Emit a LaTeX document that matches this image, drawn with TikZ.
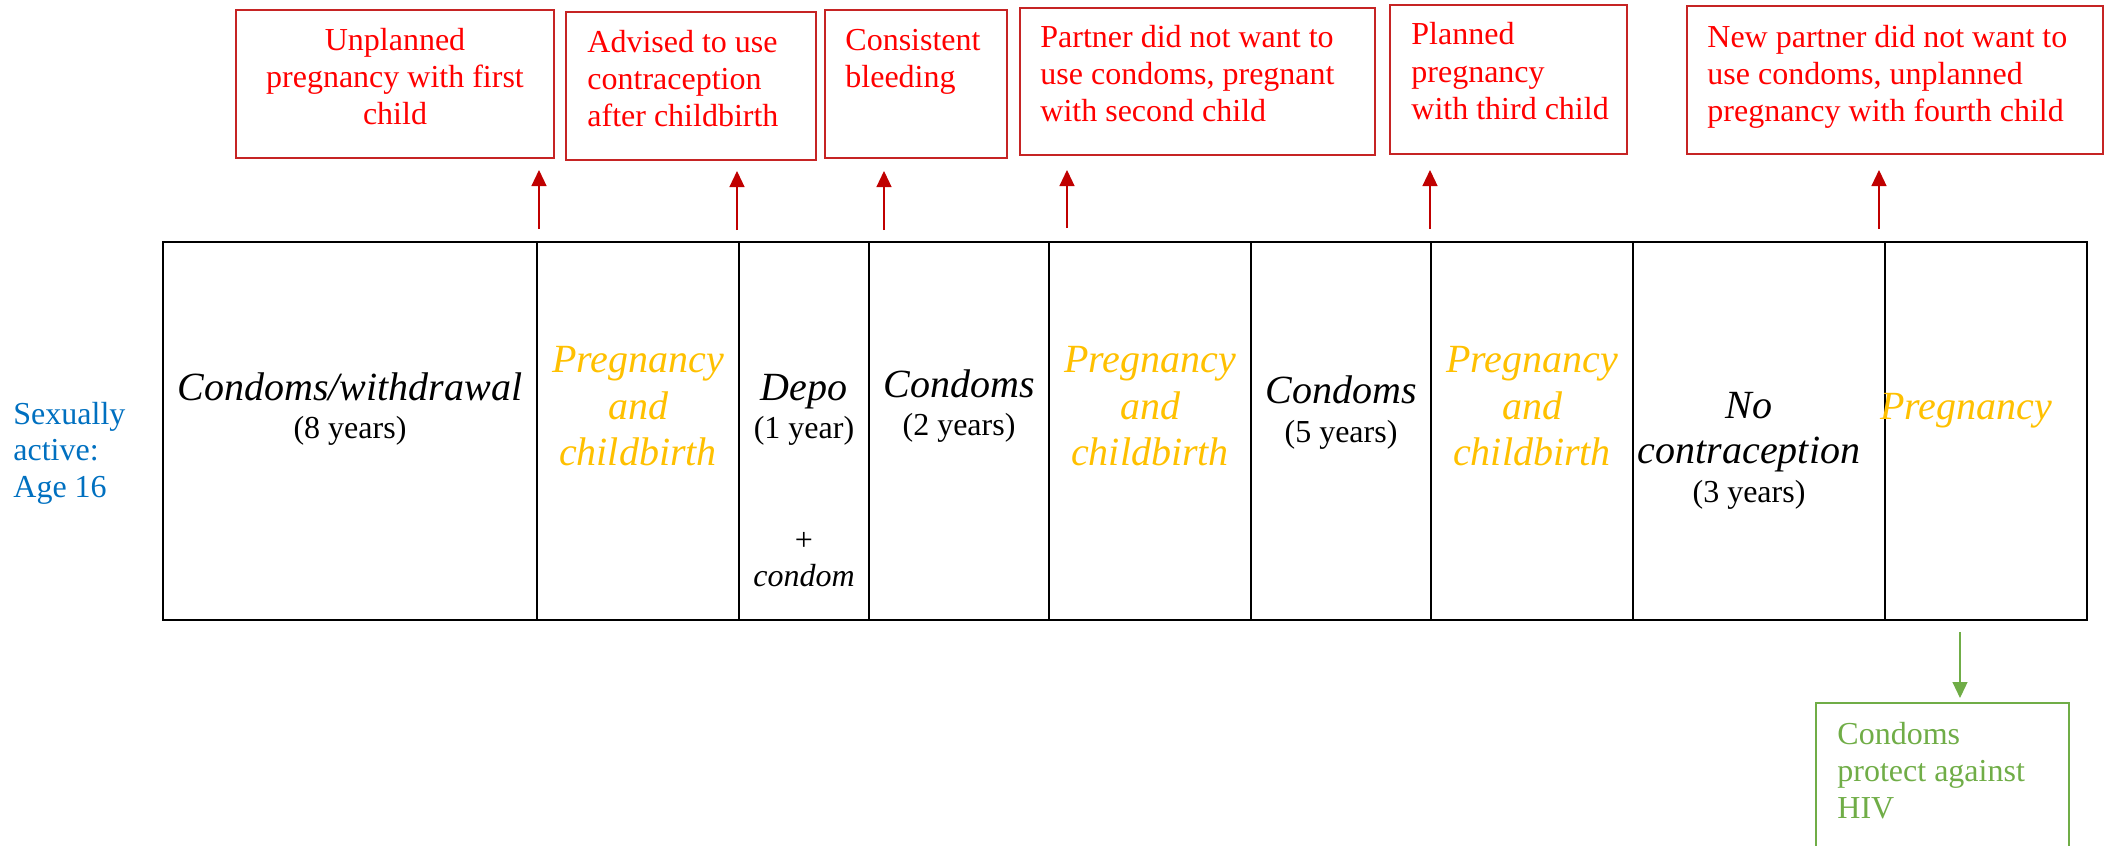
\documentclass[tikz,border=0pt]{standalone}
\usepackage{fontspec}
\setmainfont{Liberation Serif}
\usetikzlibrary{arrows.meta}
\definecolor{evyellow}{HTML}{FFC000}
\definecolor{ageblue}{HTML}{0070C0}
\definecolor{notered}{HTML}{FF0000}
\definecolor{noteframe}{RGB}{198,36,36}
\definecolor{arrowred}{HTML}{C00000}
\definecolor{hivgreen}{HTML}{70AD47}
\begin{document}
% multi-line text nodes are placed by the baseline of their last line
\begin{tikzpicture}[x=0.5pt,y=-0.5pt,
  cellbox/.style={draw, line width=0.7pt, minimum height=189pt, inner sep=0pt, outer sep=0pt, anchor=north west},
  methodtxt/.style={font=\fontsize{20}{23}\selectfont\itshape, anchor=base, inner sep=0pt},
  eventtxt/.style={methodtxt, text=evyellow},
  spantxt/.style={font=\fontsize{16}{18.5}\selectfont, anchor=base, inner sep=0pt},
  notebox/.style={draw=noteframe, line width=0.7pt, inner sep=0pt, outer sep=0pt, anchor=north west},
  notetext/.style={text=notered, font=\fontsize{16}{18.5}\selectfont, inner sep=0pt, align=left, anchor=base west},
  upflow/.style={draw=arrowred, line width=0.6pt, -{Triangle[length=8pt,width=7.5pt]}},
  downflow/.style={draw=hivgreen, line width=0.6pt, -{Triangle[length=8pt,width=7.5pt]}}]
\path[use as bounding box] (0,0) rectangle (2111,846);

% timeline cells
\node[cellbox, minimum width=187pt] (c1) at (163,242) {};
\node[cellbox, minimum width=101pt] (c2) at (537,242) {};
\node[cellbox, minimum width=65pt]  (c3) at (739,242) {};
\node[cellbox, minimum width=90pt]  (c4) at (869,242) {};
\node[cellbox, minimum width=101pt] (c5) at (1049,242) {};
\node[cellbox, minimum width=90pt]  (c6) at (1251,242) {};
\node[cellbox, minimum width=101pt] (c7) at (1431,242) {};
\node[cellbox, minimum width=126pt] (c8) at (1633,242) {};
\node[cellbox, minimum width=101pt] (c9) at (1885,242) {};
\draw[line width=1.1pt] (c1.north west) rectangle (c9.south east);

% cell contents
\node[methodtxt] (m1) at (350,400) {Condoms/withdrawal};
\node[spantxt]   (y1) at (350,438) {(8 years)};

\node[eventtxt] (p2a) at (638,372) {Pregnancy};
\node[eventtxt] (p2b) at (638,419) {and};
\node[eventtxt] (p2c) at (638,465) {childbirth};

\node[methodtxt] (m3) at (804,400) {Depo};
\node[spantxt]   (y3) at (804,438) {(1 year)};
\node[spantxt]   (plus3) at (804,550) {+};
\node[spantxt, font=\fontsize{16}{18.5}\selectfont\itshape] (k3) at (804,586) {condom};

\node[methodtxt] (m4) at (959,397) {Condoms};
\node[spantxt]   (y4) at (959,435) {(2 years)};

\node[eventtxt] (p5a) at (1150,372) {Pregnancy};
\node[eventtxt] (p5b) at (1150,419) {and};
\node[eventtxt] (p5c) at (1150,465) {childbirth};

\node[methodtxt] (m6) at (1341,403) {Condoms};
\node[spantxt]   (y6) at (1341,442) {(5 years)};

\node[eventtxt] (p7a) at (1532,372) {Pregnancy};
\node[eventtxt] (p7b) at (1532,419) {and};
\node[eventtxt] (p7c) at (1532,465) {childbirth};

\node[methodtxt] (m8a) at (1749,418) {No};
\node[methodtxt] (m8b) at (1749,463) {contraception};
\node[spantxt]   (y8) at (1749,502) {(3 years)};

\node[eventtxt] (p9) at (1966,419) {Pregnancy};

% start label
\node[text=ageblue, font=\fontsize{16}{18.25}\selectfont, inner sep=0pt, align=left, anchor=base west]
  (age) at (13,497) {Sexually\\active:\\Age 16};

% note boxes
\node[notebox, minimum width=159pt,   minimum height=74pt]   (b1) at (236,10) {};
\node[notebox, minimum width=125pt,   minimum height=74pt]   (b2) at (566,12) {};
\node[notebox, minimum width=91pt,    minimum height=74pt]   (b3) at (825,10) {};
\node[notebox, minimum width=177.5pt, minimum height=73.5pt] (b4) at (1020,8) {};
\node[notebox, minimum width=118.5pt, minimum height=74.5pt] (b5) at (1390,5) {};
\node[notebox, minimum width=208pt,   minimum height=74pt]   (b6) at (1687,6) {};

\node[notetext, align=center, anchor=base] (n1) at (395,124) {Unplanned\\pregnancy with first\\child};
\node[notetext] (n2) at (587,126) {Advised to use\\contraception\\after childbirth};
\node[notetext] (n3) at (845,87)  {Consistent\\bleeding};
\node[notetext] (n4) at (1040,121) {Partner did not want to\\use condoms, pregnant\\with second child};
\node[notetext] (n5) at (1411,119) {Planned\\pregnancy\\with third child};
\node[notetext] (n6) at (1707,121) {New partner did not want to\\use condoms, unplanned\\pregnancy with fourth child};

% arrows up to the notes
\coordinate (t1) at (539,229);  \coordinate (h1) at (539,170);
\coordinate (t2) at (737,230);  \coordinate (h2) at (737,171);
\coordinate (t3) at (884,230);  \coordinate (h3) at (884,171);
\coordinate (t4) at (1067,228); \coordinate (h4) at (1067,170);
\coordinate (t5) at (1430,229); \coordinate (h5) at (1430,170);
\coordinate (t6) at (1879,229); \coordinate (h6) at (1879,170);
\draw[upflow] (t1) -- (h1);
\draw[upflow] (t2) -- (h2);
\draw[upflow] (t3) -- (h3);
\draw[upflow] (t4) -- (h4);
\draw[upflow] (t5) -- (h5);
\draw[upflow] (t6) -- (h6);

% HIV note below the last cell, running off the bottom edge
\coordinate (hivnw) at (1816,703);
\coordinate (hivne) at (2069,703);
\draw[draw=hivgreen, line width=0.7pt] (1816,846) -- (hivnw) -- (hivne) -- (2069,846);
\node[text=hivgreen, font=\fontsize{16}{18.5}\selectfont, inner sep=0pt, align=left, anchor=base west]
  (hivtext) at (1837,818) {Condoms\\protect against\\HIV};
\coordinate (g1) at (1960,632);
\draw[downflow, shorten >=2.5pt] (g1) -- (g1 |- hivnw);
\end{tikzpicture}
\end{document}
